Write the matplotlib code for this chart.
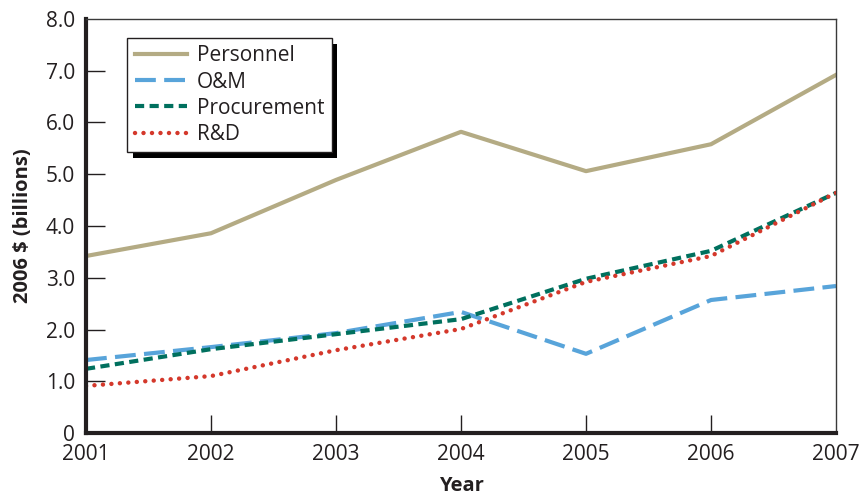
import matplotlib.pyplot as plt
import matplotlib.patheffects as pe

plt.rcParams["font.family"] = ["Open Sans", "DejaVu Sans"]

years = [2001, 2002, 2003, 2004, 2005, 2006, 2007]
personnel = [3.42, 3.86, 4.89, 5.82, 5.06, 5.58, 6.92]
om = [1.41, 1.66, 1.93, 2.34, 1.53, 2.57, 2.84]
procurement = [1.24, 1.62, 1.91, 2.20, 2.98, 3.52, 4.64]
rnd = [0.91, 1.10, 1.60, 2.01, 2.92, 3.42, 4.64]

y_ticks = [0, 1, 2, 3, 4, 5, 6, 7, 8]
y_labels = ["0", "1.0", "2.0", "3.0", "4.0", "5.0", "6.0", "7.0", "8.0"]

_C = {
    "personnel":   "#b4ab84",
    "om":          "#58a4da",
    "procurement": "#00705e",
    "rnd":         "#d4382b",
    "ink":         "#231f20",
}

fig = plt.figure(figsize=(8.65, 4.99), dpi=100)
ax = fig.add_axes([86 / 865, 1 - 433 / 499, 750 / 865, 414 / 499])

ax.plot(years, personnel, color=_C["personnel"], lw=3, label="Personnel")
ax.plot(years, om, color=_C["om"], lw=3, dashes=(5, 2), label="O&M")
ax.plot(years, procurement, color=_C["procurement"], lw=3, dashes=(2.2, 1.3),
        label="Procurement")
ax.plot(years, rnd, color=_C["rnd"], lw=3.2, dashes=(0.01, 1.9),
        dash_capstyle="round", label="R&D")

ax.set_xlim(2001, 2007)
ax.set_ylim(0, 8)
ax.set_xticks(years)
ax.set_yticks(y_ticks)
ax.set_yticklabels(y_labels)
ax.tick_params(axis="both", direction="in", labelsize=15, colors=_C["ink"],
               width=1)
ax.tick_params(axis="y", length=14, pad=8)
ax.tick_params(axis="x", length=13, pad=8)
# no tick marks at the axis ends
for t in ax.yaxis.get_major_ticks()[::8]:
    t.tick1line.set_visible(False)
for t in (ax.xaxis.get_major_ticks()[0], ax.xaxis.get_major_ticks()[-1]):
    t.tick1line.set_visible(False)

for s in ("left", "bottom"):
    ax.spines[s].set_linewidth(3)
    ax.spines[s].set_color(_C["ink"])
for s in ("top", "right"):
    ax.spines[s].set_linewidth(1)
    ax.spines[s].set_color("#3a3a3a")

ax.set_ylabel("2006 $ (billions)", fontsize=14.5, fontweight="bold",
              color=_C["ink"], labelpad=9)
ax.set_xlabel("Year", fontsize=14.5, fontweight="bold", color=_C["ink"],
              labelpad=8)

leg = ax.legend(loc="upper left", bbox_to_anchor=(0.055, 0.954),
                borderaxespad=0, fancybox=False, framealpha=1,
                edgecolor=_C["ink"], fontsize=15, handlelength=2.5,
                labelspacing=0.25, handletextpad=0.5, borderpad=0.35)
for txt in leg.get_texts():
    txt.set_color(_C["ink"])
leg.get_frame().set_linewidth(1)
leg.legendPatch.set_path_effects([
    pe.SimplePatchShadow(offset=(4, -4), shadow_rgbFace="black", alpha=1),
    pe.Normal(),
])

fig.savefig("out.png", dpi=100)
